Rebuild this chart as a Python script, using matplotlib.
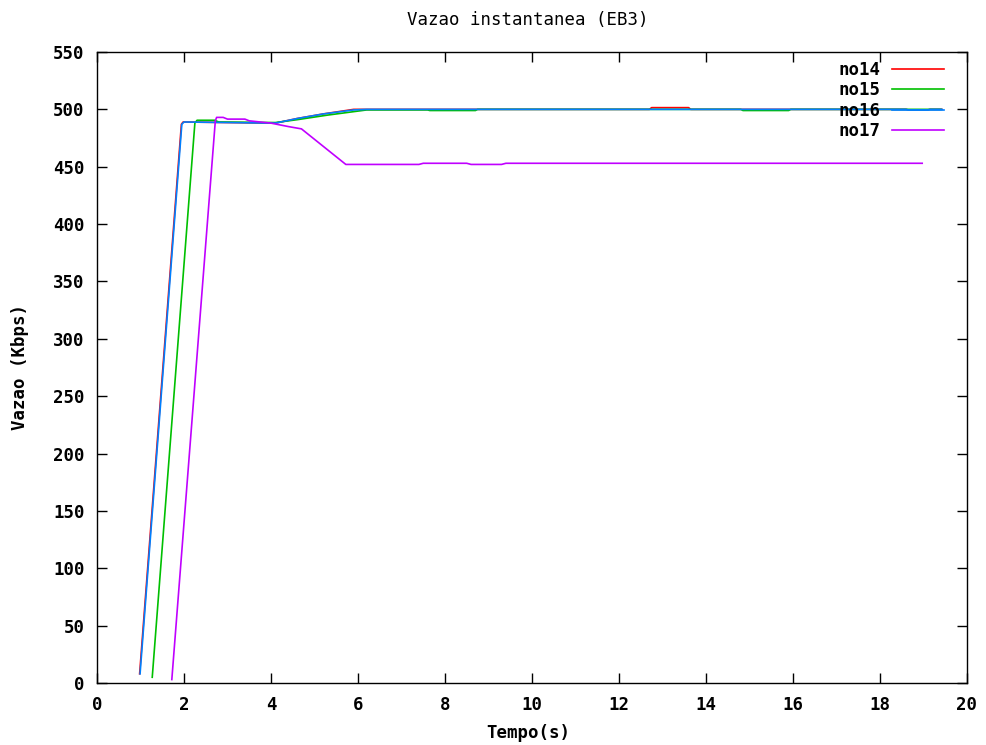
import matplotlib
matplotlib.use("Agg")
import matplotlib.pyplot as plt

# --- data ---
t14 = [0.98, 1.94, 1.98, 4.10, 4.60, 5.20, 5.90, 6.20, 12.70, 12.75, 13.60, 13.65, 18.60, 18.65, 19.10, 19.15, 19.42]
v14 = [8, 487, 489, 488, 492, 496, 500, 500, 500, 501.5, 501.5, 500, 500, 499.5, 499.5, 500, 500]

t15 = [1.27, 2.25, 2.30, 2.70, 2.80, 4.10, 4.60, 5.30, 6.20, 7.60, 7.65, 8.70, 8.75, 14.80, 14.85, 15.90, 15.95, 19.40]
v15 = [5, 488, 490.5, 490.5, 489, 488.5, 491, 495, 499.5, 499.5, 499, 499, 500, 500, 499, 499, 500, 500]

t16 = [0.99, 1.95, 2.00, 4.10, 4.60, 5.20, 5.90, 6.20, 18.60, 18.65, 19.10, 19.15, 19.42]
v16 = [8, 487, 489, 488, 492, 496, 499.5, 500, 500, 499.5, 499.5, 500, 500]

t17 = [1.72, 2.72, 2.75, 2.90, 3.00, 3.40, 3.50, 4.00, 4.40, 4.70, 5.72, 7.40, 7.50, 8.50, 8.60, 9.30, 9.40, 18.97]
v17 = [3, 490, 493, 493, 491.5, 491.5, 490, 488, 485, 483, 452, 452, 453, 453, 452, 452, 453, 453]

labels = ["no14", "no15", "no16", "no17"]
colors = ["#ff0000", "#00c000", "#0080ff", "#c000ff"]

xticks = list(range(0, 21, 2))
yticks = list(range(0, 551, 50))

fig = plt.figure(figsize=(9.87, 7.45), dpi=100)
ax = fig.add_axes([97/987, 1-683/745, (967-97)/987, (683-52)/745])

FS = 12.5
font = dict(family="DejaVu Sans Mono", weight="bold", size=FS)

for t, v, lab, c in zip([t14, t15, t16, t17], [v14, v15, v16, v17], labels, colors):
    ax.plot(t, v, color=c, lw=1.2, label=lab)

ax.set_xlim(0, 20)
ax.set_ylim(0, 550)
ax.set_xticks(xticks)
ax.set_yticks(yticks)
ax.tick_params(direction="in", length=7, width=1, top=True, right=True, pad=9)
for lab in ax.get_xticklabels() + ax.get_yticklabels():
    lab.set_fontfamily("DejaVu Sans Mono")
    lab.set_fontweight("bold")
    lab.set_fontsize(FS)
for s in ax.spines.values():
    s.set_linewidth(1)

fig.text(528/987, 1-733/745, "Tempo(s)", ha="center", va="center", **font)
fig.text(20/987, 1-367/745, "Vazao (Kbps)", ha="center", va="center", rotation=90, **font)
fig.text(528/987, 1-20/745, "Vazao instantanea (EB3)", ha="center", va="center",
         family="DejaVu Sans Mono", size=FS)

leg = ax.legend(loc="upper right", frameon=False, markerfirst=False,
                handlelength=2.95, handletextpad=0.7, labelspacing=0.14,
                borderaxespad=0.0, bbox_to_anchor=(0.981, 0.997),
                prop=dict(family="DejaVu Sans Mono", weight="bold", size=FS))

fig.savefig("out.png", dpi=100)
